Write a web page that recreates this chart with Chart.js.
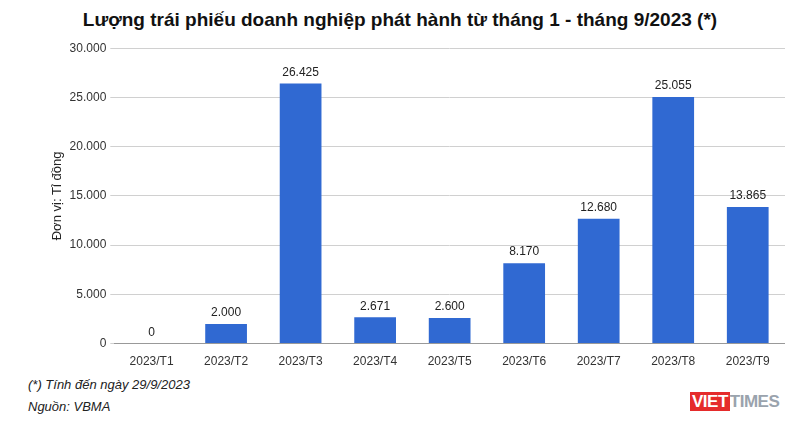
<!DOCTYPE html>
<html>
<head>
<meta charset="utf-8">
<script src="https://cdn.jsdelivr.net/npm/chart.js@4/dist/chart.umd.min.js"></script>
<style>
body { margin: 0; background: #fff; font-family: Arial, "Liberation Sans", sans-serif; }
#wrap { position: relative; width: 800px; height: 430px; }
#title { position: absolute; top: 9px; left: 0; width: 800px; text-align: center; font-size: 19px; font-weight: bold; color: #111; }
#box { position: absolute; top: 37px; left: 32px; width: 753px; height: 335px; }
.note { position: absolute; left: 28px; font-size: 13px; font-style: italic; color: #222; }
#logo { position: absolute; left: 690px; top: 392px; font-size: 17px; font-weight: bold; letter-spacing: -0.5px; }
</style>
</head>
<body>
<div id="wrap">
	<div id="title">Lượng trái phiếu doanh nghiệp phát hành từ tháng 1 - tháng 9/2023 (*)</div>
	<div id="box"><canvas id="chart1"></canvas></div>
	<div class="note" style="top:377px">(*) Tính đến ngày 29/9/2023</div>
	<div class="note" style="top:399px">Nguồn: VBMA</div>
	<div id="logo"><span style="background:#e52b2b;color:#fff;padding:0 2px">VIET</span><span style="color:#9aa3ad">TIMES</span></div>
</div>
<script>
const months = ['2023/T1', '2023/T2', '2023/T3', '2023/T4', '2023/T5', '2023/T6', '2023/T7', '2023/T8', '2023/T9'];
const issued = [0, 2000, 26425, 2671, 2600, 8170, 12680, 25055, 13865];

const fmt = (v) => v.toLocaleString('de-DE');

const valueLabels = {
	id: 'valueLabels',
	afterDatasetsDraw(chart) {
		let ctx = chart.ctx;
		let meta = chart.getDatasetMeta(0);
		ctx.save();
		ctx.font = '12px Arial, "Liberation Sans"';
		ctx.fillStyle = '#222';
		ctx.textAlign = 'center';
		ctx.textBaseline = 'bottom';
		meta.data.forEach((bar, i) => {
			ctx.fillText(fmt(issued[i]), bar.x, bar.y - 5);
		});
		ctx.restore();
	}
};

new Chart(document.getElementById('chart1'), {
	type: 'bar',
	data: {
		labels: months,
		datasets: [
			{
				data: issued,
				backgroundColor: '#3069d2',
				categoryPercentage: 0.56,
				barPercentage: 1
			}
		]
	},
	options: {
		responsive: true,
		maintainAspectRatio: false,
		animation: false,
		layout: { padding: { top: 4, left: 18 } },
		plugins: {
			legend: { display: false },
			tooltip: { enabled: false }
		},
		scales: {
			x: {
				grid: { display: false },
				border: { color: '#999' },
				ticks: { color: '#333', font: { size: 12, family: 'Arial, "Liberation Sans"' }, maxRotation: 0 }
			},
			y: {
				min: 0,
				max: 30000,
				ticks: {
					stepSize: 5000,
					color: '#333',
					padding: 4,
					font: { size: 12, family: 'Arial, "Liberation Sans"' },
					callback: (v) => fmt(v)
				},
				grid: { color: '#d0d0d0', tickLength: 4 },
				border: { display: false },
				title: { display: true, text: 'Đơn vị: Tỉ đồng', color: '#222', padding: 0, font: { size: 13, family: 'Arial, "Liberation Sans"' } }
			}
		}
	},
	plugins: [valueLabels]
});
</script>
</body>
</html>
